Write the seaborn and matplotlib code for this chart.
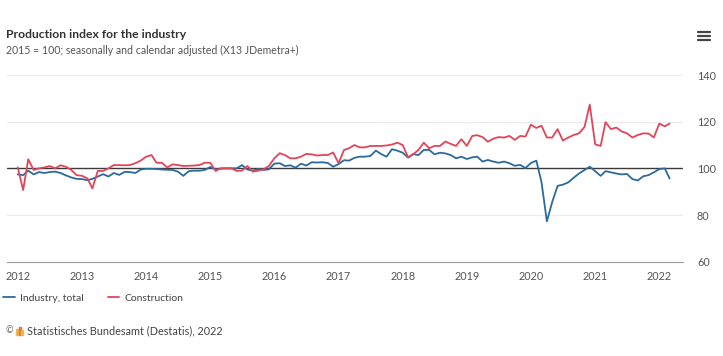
import pandas as pd
import matplotlib.pyplot as plt
import matplotlib.dates as mdates
from matplotlib.lines import Line2D
from matplotlib.patches import Rectangle
import seaborn as sns

# monthly index values, Jan 2012 - Mar 2022 (2015 = 100)
industry = [
    97.4, 97.1, 99.0, 97.4, 98.4, 98.0, 98.4, 98.6, 98.0, 97.0, 96.1, 95.5,
    95.4, 94.9, 95.5, 96.5, 97.5, 96.5, 98.0, 97.2, 98.5, 98.4, 98.0, 99.5,
    99.8, 99.8, 99.7, 99.5, 99.4, 99.3, 98.6, 96.8, 98.8, 99.0, 99.0, 99.3,
    100.6, 99.5, 99.9, 100.0, 100.0, 100.0, 101.4, 99.5, 99.0, 99.7, 99.3, 99.6,
    102.0, 102.2, 101.0, 101.3, 100.3, 102.0, 101.2, 102.6, 102.5, 102.6, 102.3, 100.7,
    101.8, 103.5, 103.3, 104.5, 105.0, 105.0, 105.3, 107.6, 106.1, 105.0, 108.2, 107.6,
    106.7, 104.6, 106.1, 105.7, 107.9, 107.9, 106.0, 106.7, 106.4, 105.7, 104.3, 105.0,
    104.0, 104.7, 105.0, 102.9, 103.6, 102.9, 102.4, 102.9, 102.2, 101.1, 101.5, 100.1,
    102.3, 103.3, 94.2, 77.3, 85.5, 92.5, 93.0, 94.0, 96.0, 97.8, 99.3, 100.7,
    98.8, 96.8, 98.8, 98.3, 97.8, 97.4, 97.6, 95.4, 94.8, 96.6, 97.1, 98.3,
    99.7, 100.0, 95.6,
]
construction = [
    100.4, 90.7, 103.9, 99.3, 100.0, 100.4, 101.0, 100.0, 101.3, 100.7, 99.3, 97.1,
    96.8, 95.7, 91.4, 98.9, 98.9, 100.0, 101.4, 101.4, 101.3, 101.4, 102.2, 103.3,
    105.0, 105.7, 102.4, 102.4, 100.4, 101.7, 101.4, 101.0, 101.1, 101.2, 101.4, 102.4,
    102.4, 98.9, 100.0, 100.0, 100.0, 98.9, 99.0, 101.0, 98.6, 99.0, 99.6, 101.0,
    104.3, 106.5, 105.7, 104.3, 104.3, 105.0, 106.2, 106.0, 105.5, 105.7, 105.7, 106.8,
    102.2, 107.9, 108.6, 110.0, 109.0, 109.0, 109.6, 109.6, 109.6, 109.8, 110.2, 111.0,
    110.0, 104.7, 106.0, 107.9, 111.0, 108.6, 109.6, 109.6, 111.5, 110.5, 109.6, 112.5,
    109.6, 113.9, 114.2, 113.4, 111.4, 112.7, 113.4, 113.2, 113.9, 112.2, 113.9, 113.6,
    118.7, 117.3, 118.3, 113.2, 113.2, 116.8, 111.9, 113.2, 114.3, 115.0, 117.7, 127.3,
    110.3, 109.6, 119.8, 116.8, 117.5, 115.8, 115.0, 113.2, 114.3, 115.0, 114.9, 113.2,
    119.2, 118.0, 119.2,
]
months = pd.date_range("2012-01-01", periods=len(industry), freq="MS")
series_names = ["Industry, total", "Construction"]
y_ticks = [60, 80, 100, 120, 140]

df = pd.concat([
    pd.DataFrame({"month": months, "value": industry, "series": series_names[0]}),
    pd.DataFrame({"month": months, "value": construction, "series": series_names[1]}),
])

sns.set_style("white")
plt.rcParams['font.family'] = ['Lato', 'DejaVu Sans']
colors = {"Industry, total": "#2c6a9c", "Construction": "#e2455a"}

fig = plt.figure(figsize=(7.23, 3.56), dpi=100)
ax = fig.add_axes([7 / 723, 1 - 261.7 / 356, 676 / 723, (261.7 - 75) / 356])

# gridlines + reference line at 100
for v in y_ticks[1:]:
    if v == 100:
        continue
    ax.axhline(v, color="#ececec", lw=0.9, zorder=0)
ax.axhline(100, color="#3a3a3a", lw=1.0, zorder=1)

sns.lineplot(data=df, x="month", y="value", hue="series", palette=colors,
             linewidth=1.3, ax=ax, legend=False, zorder=3)

ax.set_xlim(pd.Timestamp("2011-11-01"), pd.Timestamp("2022-05-16"))
ax.set_ylim(60, 140)
ax.set_yticks(y_ticks)
ax.yaxis.tick_right()
ax.tick_params(axis='y', length=0, pad=10, labelsize=7.8, labelcolor="#555555")
ax.xaxis.set_major_locator(mdates.YearLocator())
ax.xaxis.set_major_formatter(mdates.DateFormatter("%Y"))
ax.xaxis.set_minor_locator(mdates.MonthLocator())
ax.tick_params(axis='x', which='major', length=5, width=0.8, color="#999999",
               labelsize=7.8, labelcolor="#555555", pad=2)
ax.tick_params(axis='x', which='minor', length=3, width=0.6, color="#999999")
ax.set_xlabel("")
ax.set_ylabel("")
for s in ["top", "left", "right"]:
    ax.spines[s].set_visible(False)
ax.spines["bottom"].set_color("#999999")
ax.spines["bottom"].set_linewidth(0.8)

# titles
fig.text(6 / 723, 1 - 35 / 356, "Production index for the industry", fontsize=8.7,
         fontweight="bold", color="#333333", va="center")
fig.text(6 / 723, 1 - 50 / 356, "2015 = 100; seasonally and calendar adjusted (X13 JDemetra+)",
         fontsize=7.6, color="#555555", va="center")

# menu icon
for yy in [32, 36, 40]:
    fig.add_artist(Line2D([698 / 723, 710 / 723], [1 - yy / 356] * 2, color="#444444", lw=1.6))

# legend
handles = [Line2D([0], [0], color=colors[n], lw=1.3) for n in series_names]
leg = fig.legend(handles, series_names, loc="center left", bbox_to_anchor=(0.0, 1 - 298 / 356),
                 ncol=2, frameon=False, fontsize=7.5, handlelength=1.1, handletextpad=0.5,
                 columnspacing=2.3, borderaxespad=0, borderpad=0.3)
for t in leg.get_texts():
    t.set_color("#444444")

# source line with a small logo
fig.text(6 / 723, 1 - 331 / 356, "©", fontsize=6.5, color="#666666", va="center")
for i, (c, h) in enumerate([("#f0b44c", 6), ("#e07b39", 8), ("#f0b44c", 5)]):
    fig.add_artist(Rectangle(((16 + i * 2.5) / 723, 1 - 334.5 / 356), 2.2 / 723, h / 356,
                             color=c, transform=fig.transFigure))
fig.text(27 / 723, 1 - 331 / 356, "Statistisches Bundesamt (Destatis), 2022", fontsize=7.8,
         color="#444444", va="center")

plt.savefig("out.png", dpi=100)
